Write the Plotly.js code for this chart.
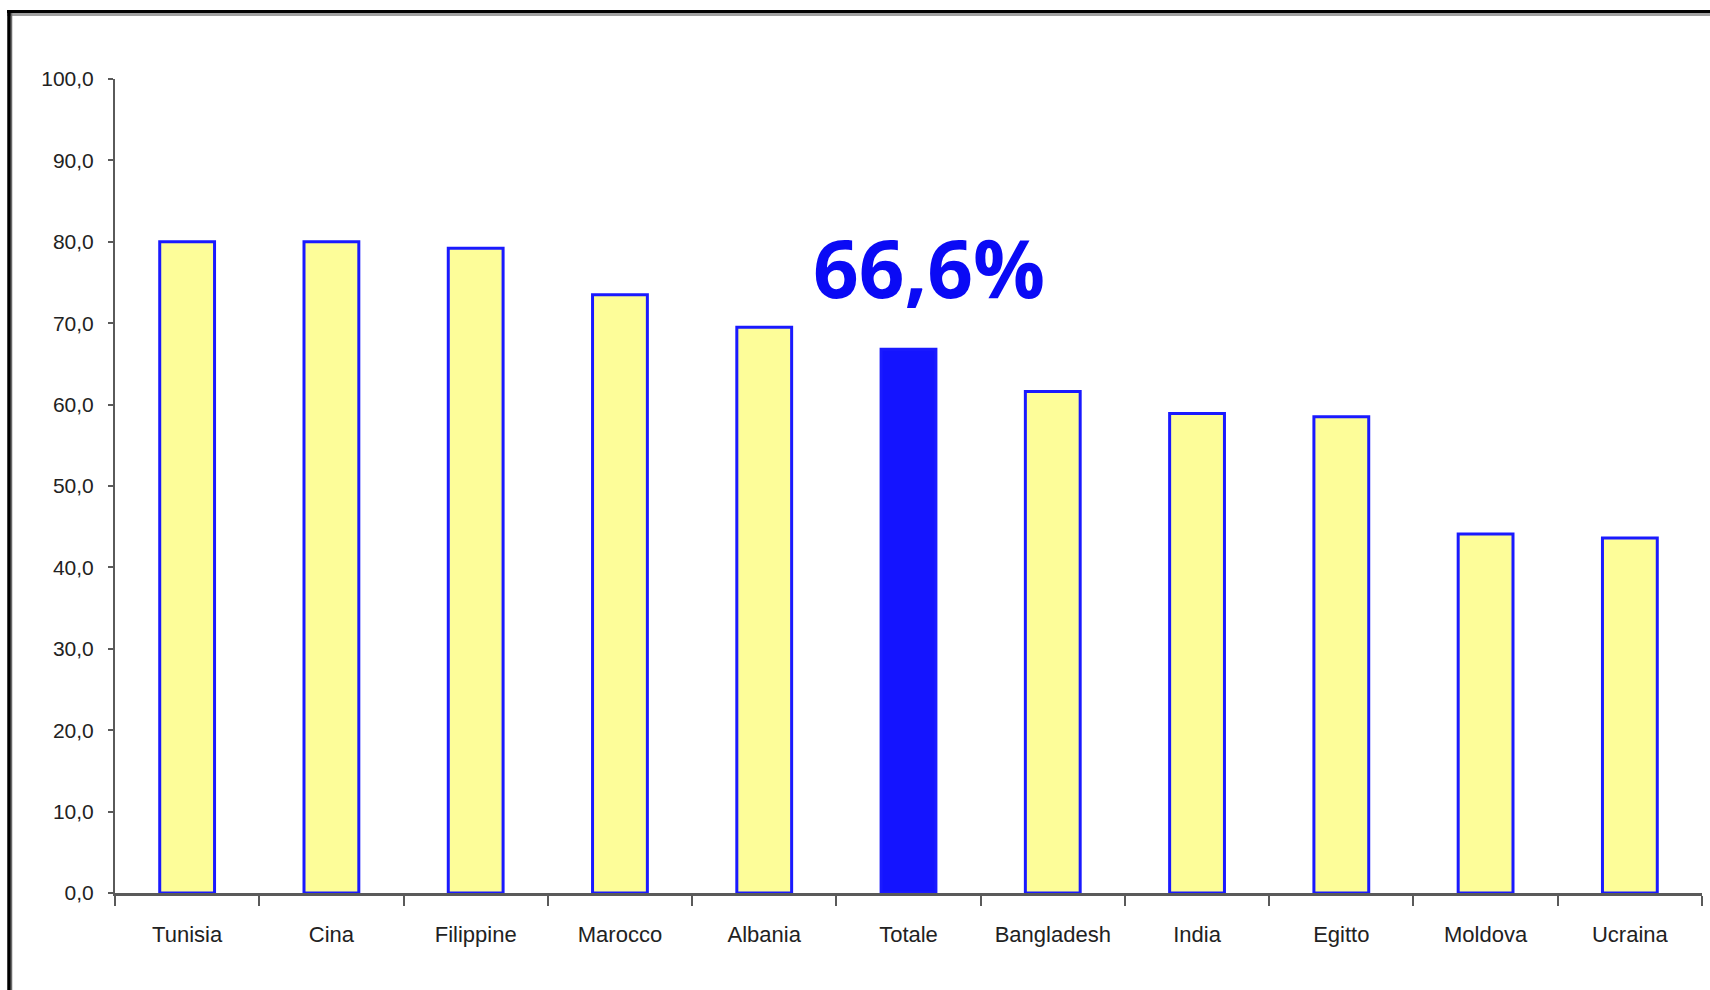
<!DOCTYPE html>
<html>
<head>
<meta charset="utf-8">
<script src="https://cdn.plot.ly/plotly-3.0.1.min.js"></script>
<style>
  html, body { margin: 0; padding: 0; background: #ffffff; }
  #chart { width: 1710px; height: 990px; }
</style>
</head>
<body>
<div id="chart"></div>
<script>
// ---- Data ----
const categories = ["Tunisia", "Cina", "Filippine", "Marocco", "Albania", "Totale",
                    "Bangladesh", "India", "Egitto", "Moldova", "Ucraina"];
const values = [80.0, 80.0, 79.2, 73.5, 69.5, 66.8, 61.6, 58.9, 58.5, 44.1, 43.6];
const highlightCategory = "Totale";
const highlightLabel = "66,6%";
const yTickValues = [0, 10, 20, 30, 40, 50, 60, 70, 80, 90, 100];

// ---- Styles ----
const yellowFill = "#FDFD99";
const blueLine = "#1A1AFF";
const totalFill = "#1414FF";

const fills = categories.map(c => c === highlightCategory ? totalFill : yellowFill);

// plot area in pixels (for converting frame decoration to paper coords)
const W = 1710, H = 990;
const M = { l: 115, r: 8, t: 79, b: 97 };
const pw = W - M.l - M.r, ph = H - M.t - M.b;
const px = x => (x - M.l) / pw;
const py = y => (H - M.b - y) / ph;

const trace = {
  type: "bar",
  x: categories,
  y: values,
  width: 0.38,
  marker: { color: fills, line: { color: blueLine, width: 3 } },
  hoverinfo: "x+y"
};

const layout = {
  width: W, height: H,
  margin: M,
  paper_bgcolor: "#ffffff",
  plot_bgcolor: "#ffffff",
  showlegend: false,
  separators: ",.",
  font: { family: "Liberation Sans, Arial, sans-serif", color: "#222222" },
  xaxis: {
    type: "category",
    range: [-0.5, categories.length - 0.5],
    showline: true, linecolor: "#5a5a5a", linewidth: 3,
    ticks: "outside", tickson: "boundaries", ticklen: 10, tickwidth: 2, tickcolor: "#5a5a5a",
    tickfont: { size: 22, color: "#222222" },
    ticklabelstandoff: 20,
    showgrid: false, zeroline: false,
    fixedrange: true
  },
  yaxis: {
    range: [0, 100],
    tickvals: yTickValues,
    tickformat: ".1f",
    showline: true, linecolor: "#5a5a5a", linewidth: 2,
    ticks: "outside", ticklen: 5, tickwidth: 2, tickcolor: "#5a5a5a",
    tickfont: { size: 21, color: "#222222" },
    ticklabelstandoff: 10,
    showgrid: false, zeroline: false,
    fixedrange: true
  },
  annotations: [{
    x: highlightCategory, xref: "x", xshift: 20,
    y: 77, yref: "y",
    text: highlightLabel,
    showarrow: false,
    xanchor: "center", yanchor: "middle",
    font: { family: "Open Sans", size: 80, color: "#0A0AF5", weight: 700 }
  }],
  shapes: [
    // frame: top edge (black with gray shadow)
    { type: "line", xref: "paper", yref: "paper", x0: px(7), x1: px(1712), y0: py(14.5), y1: py(14.5),
      line: { color: "#a0a0a0", width: 3 } },
    { type: "line", xref: "paper", yref: "paper", x0: px(7), x1: px(1712), y0: py(11.5), y1: py(11.5),
      line: { color: "#000000", width: 3 } },
    // frame: left edge
    { type: "line", xref: "paper", yref: "paper", x0: px(11.5), x1: px(11.5), y0: py(13), y1: py(992),
      line: { color: "#6a6a6a", width: 1.5 } },
    { type: "line", xref: "paper", yref: "paper", x0: px(9), x1: px(9), y0: py(10), y1: py(992),
      line: { color: "#000000", width: 3.5 } }
  ]
};

Plotly.newPlot("chart", [trace], layout, { displayModeBar: false, staticPlot: true });
</script>
</body>
</html>
